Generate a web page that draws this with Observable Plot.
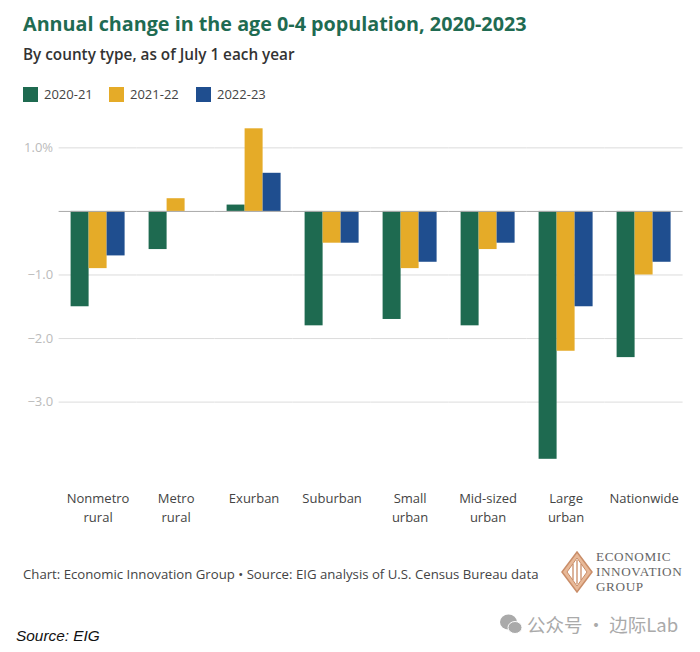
<!DOCTYPE html>
<html><head><meta charset="utf-8">
<script src="https://cdn.jsdelivr.net/npm/d3@7"></script>
<script src="https://cdn.jsdelivr.net/npm/@observablehq/plot@0.6"></script>
<style>
html,body{margin:0;padding:0;background:#fff;width:700px;height:652px;overflow:hidden}
body{position:relative;font-family:"Open Sans",sans-serif}
.t{position:absolute;white-space:nowrap}
#chart{position:absolute;left:0;top:110px}
#chart svg{background:transparent;overflow:visible}
.sw{position:absolute;width:15px;height:15px;top:87px}
</style></head><body>
<div class="t" style="left:23px;top:10px;font-size:19.75px;font-weight:700;color:#1f6b52">Annual change in the age 0-4 population, 2020-2023</div>
<div class="t" style="left:23px;top:44px;font-size:15.3px;font-weight:600;color:#333">By county type, as of July 1 each year</div>
<div id="legend"></div>
<div id="chart"></div>
<div class="t" style="left:23px;top:565px;font-size:13.2px;color:#444">Chart: Economic Innovation Group • Source: EIG analysis of U.S. Census Bureau data</div>
<svg style="position:absolute;left:560px;top:550px" width="34" height="44" viewBox="0 0 34 44">
<path d="M17 2 L32 22 L17 42 L2 22 Z" fill="#e8b998" stroke="#c98d68" stroke-width="1.5"/>
<path d="M17 8 L27 22 L17 36 L7 22 Z" fill="#fff" stroke="#c98d68" stroke-width="1"/>
<path d="M13 14 V30 M17 10 V34 M21 14 V30" stroke="#c98d68" stroke-width="1.3" fill="none"/>
</svg>
<div class="t" style="left:596px;top:550px;font-family:'Liberation Serif',serif;font-size:13.2px;line-height:14.8px;letter-spacing:.6px;color:#666">ECONOMIC<br>INNOVATION<br>GROUP</div>
<svg style="position:absolute;left:499px;top:612px" width="24" height="24" viewBox="0 0 24 24">
<ellipse cx="9.5" cy="10" rx="8.5" ry="7.5" fill="#aaa"/><ellipse cx="16" cy="15.5" rx="7" ry="6" fill="#aaa" stroke="#fff"/>
</svg>
<div class="t" style="left:527px;top:611px;font-family:'Noto Sans CJK SC','Noto Sans',sans-serif;font-size:18.5px;color:#aaa">公众号 · 边际Lab</div>
<div class="t" style="left:16px;top:627px;font-family:'Liberation Sans',sans-serif;font-style:italic;font-size:15.4px;color:#111">Source: EIG</div>
<script>
const categories = ["Nonmetro\nrural","Metro\nrural","Exurban","Suburban","Small\nurban","Mid-sized\nurban","Large\nurban","Nationwide"];
const periods = ["2020-21","2021-22","2022-23"];
const colors = ["#1e6a50","#e5ab28","#1f4e8f"];
const v2021 = [-1.5,-0.6,0.1,-1.8,-1.7,-1.8,-3.9,-2.3];
const v2122 = [-0.9,0.2,1.3,-0.5,-0.9,-0.6,-2.2,-1.0];
const v2223 = [-0.7,0,0.6,-0.5,-0.8,-0.5,-1.5,-0.8];
const yTicks = [1,-1,-2,-3];
const yTickLabels = ["1.0%","−1.0","−2.0","−3.0"];

const series = [v2021,v2122,v2223];
const rows = categories.flatMap((c,i)=>periods.map((p,j)=>({category:c,period:p,value:series[j][i]})));

const legend = document.getElementById("legend");
[23,109,196].forEach((x,i)=>{
  legend.insertAdjacentHTML("beforeend",
    `<div class="sw" style="left:${x}px;background:${colors[i]}"></div><div class="t" style="left:${x+21}px;top:85px;font-size:13px;color:#444">${periods[i]}</div>`);
});

const plot = Plot.plot({
  width:700, height:430,
  marginLeft:58.6, marginRight:17.4, marginTop:10, marginBottom:55,
  style:{fontFamily:"'Open Sans',sans-serif",fontSize:"13px",background:"transparent"},
  fx:{domain:categories,padding:0,label:null,round:false},
  x:{domain:periods,paddingInner:0,paddingOuter:12/18,axis:null,round:false},
  y:{domain:[1.3,-3.9],range:[18.3,348.8],axis:null},
  color:{domain:periods,range:colors},
  marks:[
    Plot.ruleY(yTicks,{stroke:"#dcdcdc",strokeWidth:1}),
    Plot.barY(rows,{fx:"category",x:"period",y1:0,y2:"value",fill:"period"}),
    Plot.ruleY([0],{stroke:"#a8a8a8",strokeWidth:1}),
    Plot.axisY({anchor:"left",ticks:yTicks,tickSize:0,tickPadding:6,label:null,color:"#bbb",fill:"#bbb",fontSize:13,tickFormat:d=>yTickLabels[yTicks.indexOf(d)]}),
    Plot.axisFx({anchor:"bottom",tickSize:0,tickPadding:4,label:null,fill:"#444",fontSize:13,lineHeight:1.45,tickFormat:d=>d})
  ]
});
document.getElementById("chart").appendChild(plot);
</script>
</body></html>
